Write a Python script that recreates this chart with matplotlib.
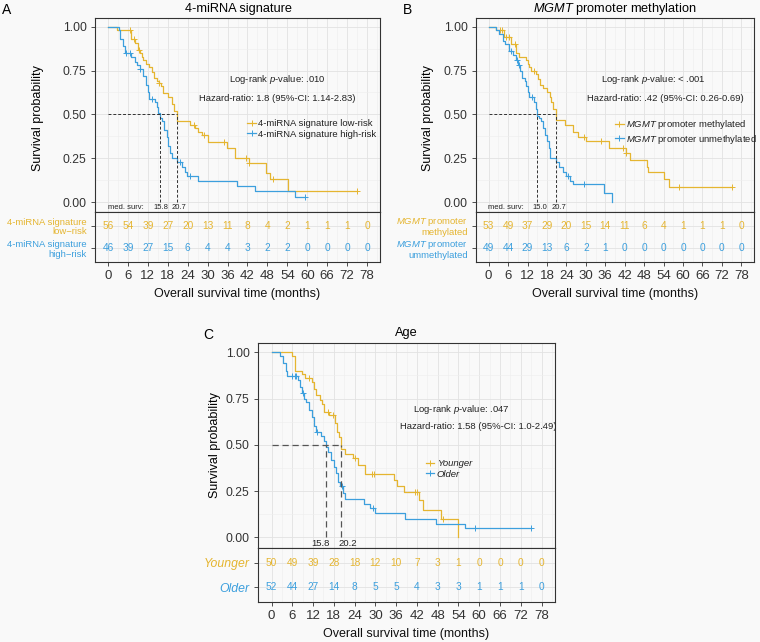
import numpy as np
import matplotlib
matplotlib.use("Agg")
import matplotlib.pyplot as plt
from matplotlib.lines import Line2D

plt.rcParams['font.family'] = ['Liberation Sans', 'DejaVu Sans']
plt.rcParams['mathtext.fontset'] = 'custom'
plt.rcParams['mathtext.rm'] = 'Liberation Sans'
plt.rcParams['mathtext.it'] = 'Liberation Sans:italic'

ORANGE = '#E5B530'
BLUE = '#3C9FDD'
BG = '#f9f9f9'
W, H = 760, 642

risk_times = np.arange(0, 79, 6)

# ---- panel A : 4-miRNA signature
a_low_t = [0, 2.7, 7.0, 8.2, 9.0, 9.7, 10.2, 10.7, 11.4, 12.5, 13.2, 13.9, 14.7, 15.5, 16.0,
           16.7, 18.2, 19.2, 19.8, 20.7, 24.7, 26.2, 27.2, 28.2, 30.2, 35.7, 38.2, 42.5,
           47.7, 48.9, 54.2]
a_low_s = [1.0, 0.98, 0.93, 0.91, 0.87, 0.85, 0.83, 0.81, 0.79, 0.77, 0.74, 0.71, 0.69, 0.68,
           0.66, 0.62, 0.60, 0.56, 0.52, 0.46, 0.44, 0.42, 0.40, 0.38, 0.34, 0.31, 0.25, 0.22,
           0.165, 0.13, 0.06]
a_low_c = [6.5, 7.7, 9.3, 15.5, 26.0, 28.9, 34.9, 41.7, 42.6, 49.7, 75.0]
a_high_t = [0, 3.2, 3.7, 4.5, 5.2, 7.0, 8.2, 8.7, 9.5, 10.7, 11.4, 12.0, 12.4, 14.2, 14.7,
            15.2, 15.8, 16.4, 17.0, 17.7, 18.2, 18.7, 19.4, 20.9, 22.2, 23.2, 23.9, 27.2,
            38.9, 44.2, 56.2]
a_high_s = [1.0, 0.98, 0.93, 0.89, 0.85, 0.83, 0.80, 0.78, 0.76, 0.72, 0.67, 0.63, 0.59, 0.57,
            0.54, 0.51, 0.48, 0.46, 0.41, 0.37, 0.32, 0.28, 0.25, 0.23, 0.20, 0.17, 0.15,
            0.12, 0.09, 0.06, 0.03]
a_high_c = [5.5, 6.5, 9.5, 13.2, 21.7, 24.7, 59.2]
a_low_risk = [56, 54, 39, 27, 20, 13, 11, 8, 4, 2, 1, 1, 1, 0]
a_high_risk = [46, 39, 27, 15, 6, 4, 4, 3, 2, 2, 0, 0, 0, 0]
a_medians = [15.8, 20.7]

# ---- panel B : MGMT promoter methylation
b_met_t = [0, 2.3, 4.6, 6.9, 8.5, 9.3, 11.6, 12.1, 12.6, 13.1, 14.7, 15.2, 16.0, 16.8, 18.1,
           18.8, 19.3, 19.9, 20.7, 23.5, 26.1, 27.6, 29.9, 37.2, 42.3, 43.6, 48.8, 49.3,
           54.0, 55.8]
b_met_s = [1.0, 0.98, 0.94, 0.90, 0.85, 0.83, 0.81, 0.79, 0.77, 0.75, 0.73, 0.70, 0.67, 0.65,
           0.63, 0.60, 0.57, 0.53, 0.47, 0.44, 0.40, 0.37, 0.35, 0.31, 0.28, 0.24, 0.20,
           0.17, 0.13, 0.085]
b_met_c = [3.5, 4.1, 5.4, 6.2, 8.0, 13.9, 29.4, 34.8, 41.6, 42.3, 58.6, 75.0]
b_unm_t = [0, 2.3, 3.3, 4.3, 5.2, 6.2, 7.4, 8.5, 9.0, 9.7, 10.3, 11.1, 11.6, 12.1, 12.6,
           14.0, 14.5, 15.0, 15.5, 16.2, 16.8, 17.5, 18.0, 18.6, 19.0, 20.9, 21.7, 22.8,
           23.8, 25.2, 25.9, 35.6, 38.2]
b_unm_s = [1.0, 0.98, 0.96, 0.92, 0.90, 0.86, 0.84, 0.81, 0.78, 0.75, 0.71, 0.69, 0.66, 0.63,
           0.60, 0.57, 0.53, 0.49, 0.48, 0.46, 0.42, 0.38, 0.35, 0.31, 0.25, 0.23, 0.20,
           0.17, 0.15, 0.12, 0.10, 0.05, 0.0]
b_unm_c = [6.9, 8.7, 9.3, 13.4, 24.6, 29.3]
b_met_risk = [53, 49, 37, 29, 20, 15, 14, 11, 6, 4, 1, 1, 1, 0]
b_unm_risk = [49, 44, 29, 13, 6, 2, 1, 0, 0, 0, 0, 0, 0, 0]
b_medians = [15.0, 20.7]

# ---- panel C : Age
c_young_t = [0, 5.9, 6.9, 8.8, 9.8, 11.6, 12.3, 12.8, 14.0, 14.7, 15.2, 16.7, 18.4, 18.8,
             19.6, 20.2, 21.1, 23.6, 25.0, 27.0, 35.3, 36.3, 38.3, 42.5, 43.7, 49.1, 54.0]
c_young_s = [1.0, 0.98, 0.90, 0.88, 0.86, 0.84, 0.80, 0.77, 0.74, 0.72, 0.68, 0.66, 0.62,
             0.57, 0.54, 0.48, 0.45, 0.43, 0.39, 0.34, 0.31, 0.28, 0.245, 0.20, 0.15, 0.10, 0.0]
c_young_c = [10.8, 16.2, 17.7, 24.2, 29.0, 29.7, 41.4, 42.0, 49.6]
c_old_t = [0, 2.5, 3.4, 4.2, 4.6, 7.6, 8.1, 8.8, 9.5, 10.1, 10.8, 11.8, 12.3, 12.8, 14.2,
           15.2, 15.8, 16.2, 17.2, 18.0, 18.6, 19.3, 19.9, 20.7, 21.3, 26.8, 28.5, 29.9,
           38.6, 47.6, 55.9]
c_old_s = [1.0, 0.98, 0.94, 0.90, 0.87, 0.85, 0.81, 0.78, 0.75, 0.73, 0.69, 0.65, 0.60, 0.57,
           0.55, 0.52, 0.49, 0.46, 0.42, 0.38, 0.35, 0.30, 0.28, 0.24, 0.21, 0.18, 0.16,
           0.13, 0.10, 0.075, 0.05]
c_old_c = [6.0, 6.9, 7.2, 9.1, 13.2, 20.3, 29.4, 58.7, 75.0]
c_young_risk = [50, 49, 39, 28, 18, 12, 10, 7, 3, 1, 0, 0, 0, 0]
c_old_risk = [52, 44, 27, 14, 8, 5, 5, 4, 3, 3, 1, 1, 1, 0]
c_medians = [15.8, 20.2]


def px_axes(fig, x0, y0, x1, y1):
    return fig.add_axes([x0 / W, 1 - y1 / H, (x1 - x0) / W, (y1 - y0) / H])


def style(ax):
    ax.set_facecolor(BG)
    for sp in ax.spines.values():
        sp.set_color('#333333')
        sp.set_linewidth(0.8)
    ax.set_xlim(-3.9, 81.9)
    ax.set_xticks(risk_times)
    ax.set_xticks(np.arange(3, 82, 6), minor=True)
    ax.grid(which='major', color='#e2e2e2', lw=0.6)
    ax.grid(which='minor', color='#eeeeee', lw=0.4)
    ax.set_axisbelow(True)
    ax.tick_params(which='minor', length=0)
    ax.tick_params(colors='#333333', length=3, width=0.6)


def km(ax, t, s, cens, color):
    t = np.array(t)
    s = np.array(s)
    end = max(t[-1], max(cens))
    ax.step(np.append(t, end), np.append(s, s[-1]), where='post', color=color, lw=0.9)
    cens = np.array(cens)
    cs = s[np.searchsorted(t, cens, side='right') - 1]
    ax.plot(cens, cs, ls='none', marker='+', ms=4, mew=0.7, color=color)


def panel(box, tbox, curves, risks, medians, med_style, med_label, texts, legend_labels,
          legend_pos, legend_style, table_labels, table_fs, table_style):
    ax = px_axes(fig, *box)
    tab = px_axes(fig, *tbox)
    for a in (ax, tab):
        style(a)
    for t, s, c, col in curves:
        km(ax, t, s, c, col)
    ax.set_ylim(-0.057, 1.05)
    ax.set_yticks([0, 0.25, 0.5, 0.75, 1.0])
    ax.set_yticks([0.125, 0.375, 0.625, 0.875], minor=True)
    ax.set_yticklabels(['0.00', '0.25', '0.50', '0.75', '1.00'], fontsize=8.8)
    ax.tick_params(axis='x', length=0, labelbottom=False)
    ax.tick_params(axis='y', pad=3)
    # median lines
    lw, dash, mcol = med_style
    ax.plot([0, max(medians)], [0.5, 0.5], color=mcol, lw=lw, dashes=dash)
    for m in medians:
        ax.plot([m, m], [0, 0.5], color=mcol, lw=lw, dashes=dash)
    fs_med, show_lbl, offsets = med_label
    if show_lbl:
        ax.text(5.3, -0.03, 'med. surv:', fontsize=fs_med, ha='center', va='center', color='#222222')
    for m, off in zip(medians, offsets):
        ax.text(m + off, -0.03, f'{m:.1f}', fontsize=fs_med,
                ha='center', va='center', color='#222222')
    for x, y, txt in texts:
        ax.text(x, y, txt, fontsize=6.8, ha='center', va='center', color='#222222')
    handles = [Line2D([], [], color=col, lw=0.9, marker='+', ms=4, mew=0.7)
               for _, _, _, col in curves]
    leg = ax.legend(handles, legend_labels, loc='upper left', bbox_to_anchor=legend_pos,
                    frameon=False, fontsize=6.8, handlelength=0.9, handletextpad=0.25,
                    labelspacing=0.2, borderaxespad=0, borderpad=0)
    for txt in leg.get_texts():
        txt.set_fontstyle(legend_style)
        txt.set_color('#222222')

    # risk table
    tab.set_ylim(0.4, 2.6)
    tab.set_yticks([2, 1])
    tab.set_yticklabels(table_labels, fontsize=table_fs, fontstyle=table_style,
                        ha='right', linespacing=1.05)
    for lab, col in zip(tab.get_yticklabels(), [ORANGE, BLUE]):
        lab.set_color(col)
    tab.tick_params(axis='y', pad=3)
    for row, (_, _, _, col), counts in zip([2, 1], curves, risks):
        for x, n in zip(risk_times, counts):
            tab.text(x, row, str(n), fontsize=7.3, color=col, ha='center', va='center')
    tab.set_xticklabels([str(v) for v in risk_times], fontsize=9.5)
    tab.tick_params(axis='x', pad=3)
    tab.set_xlabel('Overall survival time (months)', fontsize=9, labelpad=4, color='#111111')
    return ax, tab


fig = plt.figure(figsize=(W / 100, H / 100), dpi=100, facecolor=BG)

# A
panel((95, 18, 380, 212), (95, 212, 380, 262),
      [(a_low_t, a_low_s, a_low_c, ORANGE), (a_high_t, a_high_s, a_high_c, BLUE)],
      [a_low_risk, a_high_risk],
      a_medians, (0.7, (3, 2), '#333333'), (5.5, True, (0.1, 0.7)),
      [(51, 0.70, 'Log-rank $\\it{p}$-value: .010'),
       (51, 0.59, 'Hazard-ratio: 1.8 (95%-CI: 1.14-2.83)')],
      ['4-miRNA signature low-risk', '4-miRNA signature high-risk'], (0.535, 0.48), 'normal',
      ['4-miRNA signature\nlow\u2212risk', '4-miRNA signature\nhigh\u2212risk'], 6.8, 'normal')
fig.text(2 / W, 1 - 10 / H, 'A', fontsize=10, ha='left', va='center')
fig.text(239 / W, 1 - 9 / H, '4-miRNA signature', fontsize=9.2, ha='center', va='center')
fig.text(38 / W, 1 - 118 / H, 'Survival probability', fontsize=9, rotation=90,
         ha='center', va='center')

# B
panel((476, 18, 754, 212), (476, 212, 754, 262),
      [(b_met_t, b_met_s, b_met_c, ORANGE), (b_unm_t, b_unm_s, b_unm_c, BLUE)],
      [b_met_risk, b_unm_risk],
      b_medians, (0.7, (3, 2), '#333333'), (5.5, True, (0.7, 0.9)),
      [(50.7, 0.70, 'Log-rank $\\it{p}$-value: < .001'),
       (54.4, 0.59, 'Hazard-ratio: .42 (95%-CI: 0.26-0.69)')],
      ['$\\it{MGMT}$ promoter methylated', '$\\it{MGMT}$ promoter unmethylated'], (0.5, 0.485),
      'normal',
      ['$\\it{MGMT}$ promoter\nmethylated', '$\\it{MGMT}$ promoter\nummethylated'], 6.8, 'normal')
fig.text(403 / W, 1 - 10 / H, 'B', fontsize=10, ha='left', va='center')
fig.text(615 / W, 1 - 9 / H, '$\\it{MGMT}$ promoter methylation', fontsize=9.2,
         ha='center', va='center')
fig.text(428 / W, 1 - 118 / H, 'Survival probability', fontsize=9, rotation=90,
         ha='center', va='center')

# C
panel((258, 343, 555, 548), (258, 548, 555, 602),
      [(c_young_t, c_young_s, c_young_c, ORANGE), (c_old_t, c_old_s, c_old_c, BLUE)],
      [c_young_risk, c_old_risk],
      c_medians, (0.9, (5, 3), '#555555'), (6.8, False, (-1.6, 1.9)),
      [(54.8, 0.69, 'Log-rank $\\it{p}$-value: .047'),
       (59.8, 0.60, 'Hazard-ratio: 1.58 (95%-CI: 1.0-2.49)')],
      ['Younger', 'Older'], (0.565, 0.435), 'italic',
      ['Younger', 'Older'], 8.8, 'italic')
fig.text(203 / W, 1 - 335 / H, 'C', fontsize=10, ha='left', va='center')
fig.text(406 / W, 1 - 333 / H, 'Age', fontsize=9.2, ha='center', va='center')
fig.text(215 / W, 1 - 445 / H, 'Survival probability', fontsize=9, rotation=90,
         ha='center', va='center')

fig.savefig('out.png', dpi=100, facecolor=BG)
